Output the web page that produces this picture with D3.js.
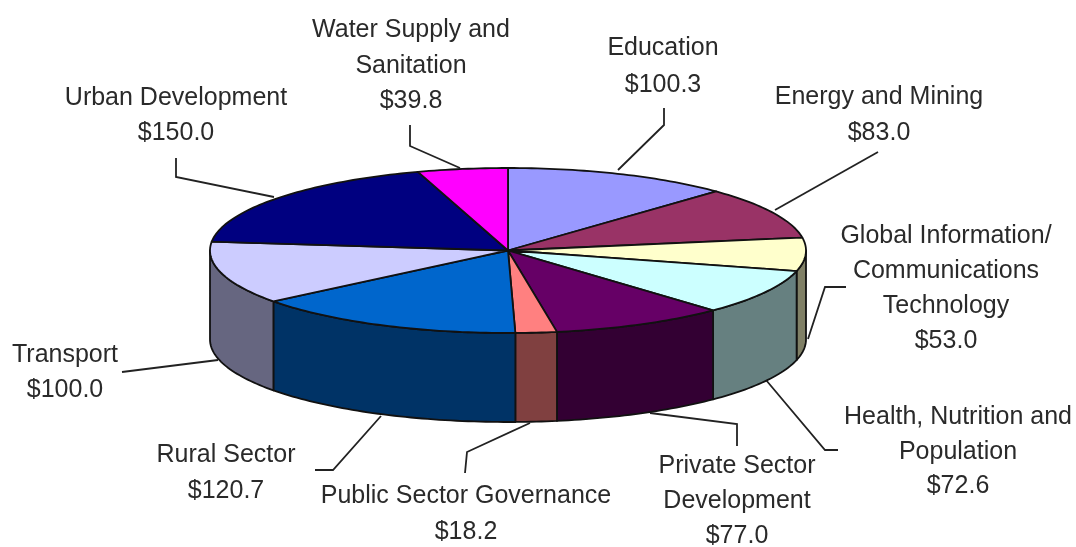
<!DOCTYPE html>
<html lang="en">
<head>
  <meta charset="utf-8">
  <title>Lending by sector</title>
  <script src="https://cdn.jsdelivr.net/npm/d3@7"></script>
  <style>
    body { margin: 0; background: #fff; overflow: hidden; }
    svg { display: block; filter: blur(0.6px); }
    .label { font: 25px "Liberation Sans", Arial, sans-serif; fill: #2a2a2a; text-anchor: middle; }
    .leader { fill: none; stroke: #222; stroke-width: 1.8px; }
    .edge { stroke: #111; stroke-width: 1.8px; stroke-linejoin: round; }
  </style>
</head>
<body>
  <div id="chart"></div>
  <script>
    // values, clockwise from 12 o'clock
    const sectors = ["Education", "Energy and Mining", "Global Information/ Communications Technology",
      "Health, Nutrition and Population", "Private Sector Development", "Public Sector Governance",
      "Rural Sector", "Transport", "Urban Development", "Water Supply and Sanitation"];
    const values = [100.3, 83.0, 53.0, 72.6, 77.0, 18.2, 120.7, 100.0, 150.0, 39.8];
    const topColors = ["#9999ff", "#993366", "#ffffcc", "#ccffff", "#660066", "#ff8080", "#0066cc", "#ccccff", "#000080", "#ff00ff"];
    const sideColors = ["#4d4d80", "#4d1a33", "#808066", "#668080", "#330033", "#804040", "#003366", "#666680", "#000040", "#800080"];
    const labelLines = [["Education"], ["Energy and Mining"], ["Global Information/", "Communications", "Technology"],
      ["Health, Nutrition and", "Population"], ["Private Sector", "Development"], ["Public Sector Governance"],
      ["Rural Sector"], ["Transport"], ["Urban Development"], ["Water Supply and", "Sanitation"]];

    // label layout: centre x, first baseline, line spacing, leader polyline
    const labelLayout = [
      { x: 663, y: 55, dy: 37, leader: [[664, 108], [664, 125], [618, 170]] },
      { x: 879, y: 104, dy: 36, leader: [[878, 152], [775, 210]] },
      { x: 946, y: 243, dy: 35, leader: [[846, 287], [825, 287], [808, 339]] },
      { x: 958, y: 424, dy: 34.7, leader: [[838, 450], [825, 450], [766, 380]] },
      { x: 737, y: 473, dy: 35, leader: [[737, 446], [737, 424], [650, 413]] },
      { x: 466, y: 503, dy: 36, leader: [[465, 473], [467, 452], [530, 423]] },
      { x: 226, y: 462, dy: 36, leader: [[315, 470], [333, 470], [381, 416]] },
      { x: 65, y: 362, dy: 35, leader: [[122, 372], [218, 360]] },
      { x: 176, y: 105, dy: 35, leader: [[176, 158], [176, 177], [274, 197]] },
      { x: 411, y: 37, dy: 35.5, leader: [[410, 125], [410, 146], [460, 168]] }
    ];

    const width = 1076, height = 547;
    const depth = 89;

    const x = d3.scaleLinear().domain([-1, 1]).range([210, 806]);
    const y = d3.scaleLinear().domain([-1, 1]).range([168, 333]);

    const pie = d3.pie().sort(null).value(d => d);
    const slices = pie(values);

    const svg = d3.select("#chart").append("svg")
      .attr("width", width)
      .attr("height", height);

    // a point on the rim; angle runs clockwise from the top like d3.pie
    const rimX = a => x(Math.sin(a));
    const rimY = a => y(-Math.cos(a));
    const rimLine = d3.line().x(a => rimX(a)).y(a => rimY(a));

    function rimAngles(a0, a1) {
      const n = Math.max(2, Math.ceil((a1 - a0) / 0.02));
      return d3.range(n + 1).map(i => a0 + (a1 - a0) * i / n);
    }

    // leader lines go under the pie
    svg.append("g").selectAll("path")
      .data(labelLayout)
      .enter()
      .append("path")
      .attr("class", "leader")
      .attr("d", d => d3.line()(d.leader));

    // side walls: only the rim between 90 and 270 degrees faces the viewer
    const frontStart = Math.PI / 2, frontEnd = Math.PI * 3 / 2;
    const walls = slices
      .map((s, i) => ({
        a0: Math.max(s.startAngle, frontStart),
        a1: Math.min(s.endAngle, frontEnd),
        i
      }))
      .filter(w => w.a1 > w.a0);

    svg.append("g").selectAll("path")
      .data(walls)
      .enter()
      .append("path")
      .attr("class", "edge")
      .attr("fill", d => sideColors[d.i])
      .attr("d", d => {
        const pts = rimAngles(d.a0, d.a1);
        const top = pts.map(a => [rimX(a), rimY(a)]);
        const bottom = pts.slice().reverse().map(a => [rimX(a), rimY(a) + depth]);
        return d3.line()(top.concat(bottom)) + "Z";
      });

    // top face
    svg.append("g").selectAll("path")
      .data(slices)
      .enter()
      .append("path")
      .attr("class", "edge")
      .attr("fill", (d, i) => topColors[i])
      .attr("d", d => `M${x(0)},${y(0)}L` + rimLine(rimAngles(d.startAngle, d.endAngle)).slice(1) + "Z");

    // labels: the name lines, then the amount
    const money = d3.format("$.1f");
    const label = svg.append("g").selectAll("text")
      .data(sectors)
      .enter()
      .append("text")
      .attr("class", "label");

    label.selectAll("tspan")
      .data((d, i) => labelLines[i].concat(money(values[i]))
        .map((t, j) => ({ t, x: labelLayout[i].x, y: labelLayout[i].y + j * labelLayout[i].dy })))
      .enter()
      .append("tspan")
      .attr("x", d => d.x)
      .attr("y", d => d.y)
      .text(d => d.t);
  </script>
</body>
</html>
